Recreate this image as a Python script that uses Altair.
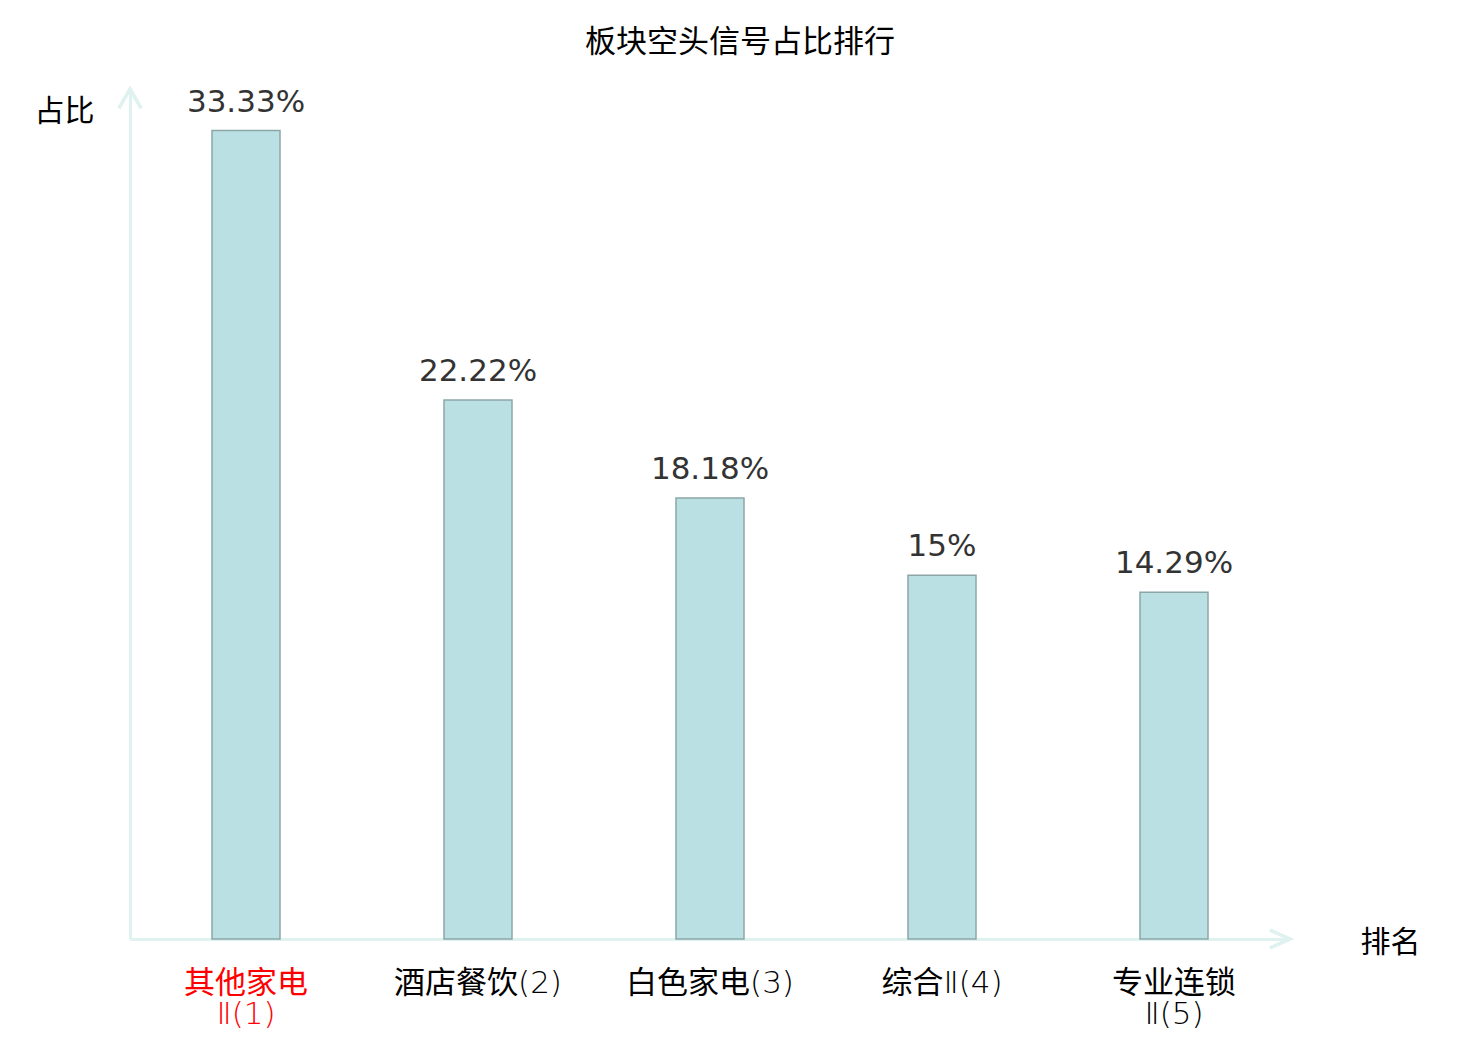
import altair as alt
import pandas as pd

categories = ["其他家电Ⅱ(1)", "酒店餐饮(2)", "白色家电(3)", "综合Ⅱ(4)", "专业连锁Ⅱ(5)"]
values = [33.33, 22.22, 18.18, 15, 14.29]
highlight = "其他家电Ⅱ(1)"

df = pd.DataFrame({"板块": categories, "占比": values})

AXIS_COLOR = "#dff2ef"
CJK = "Noto Sans CJK SC"
LABEL_FONT = "DejaVu Sans Light, Noto Sans CJK SC"

x_enc = alt.X(
    "板块:N",
    sort=categories,
    scale=alt.Scale(paddingInner=0, paddingOuter=0),
    axis=alt.Axis(
        title="排名",
        titleFont=CJK,
        titleFontSize=30,
        titleFontWeight="normal",
        titleColor="black",
        titleX=1260,
        titleY=3,
        titleAlign="center",
        titleBaseline="middle",
        titleAngle=0,
        labelAngle=0,
        labelFont=LABEL_FONT,
        labelFontSize=31,
        labelLineHeight=31,
        labelPadding=29,
        labelLimit=400,
        labelColor=alt.condition(f"datum.value == '{highlight}'", alt.value("red"), alt.value("black")),
        labelExpr="length(datum.label) > 7 ? [substring(datum.label, 0, 4), substring(datum.label, 4)] : datum.label",
        ticks=False,
        domainColor=AXIS_COLOR,
        domainWidth=3,
        grid=False,
    ),
)

y_enc = alt.Y(
    "占比:Q",
    scale=alt.Scale(domain=[0, 35], nice=False),
    axis=alt.Axis(
        title="占比",
        titleFont=CJK,
        titleFontSize=30,
        titleFontWeight="normal",
        titleColor="black",
        titleAngle=0,
        titleX=-66,
        titleY=21,
        titleAlign="center",
        titleBaseline="middle",
        labels=False,
        ticks=False,
        grid=False,
        domainColor=AXIS_COLOR,
        domainWidth=3,
    ),
)

base = alt.Chart(df)

bars = base.mark_bar(size=68, fill="#bbe0e3", stroke="#8ca6a8", strokeWidth=1.5).encode(x=x_enc, y=y_enc)

texts = base.transform_calculate(label="datum['占比'] + '%'").mark_text(
    font="DejaVu Sans", fontSize=31, color="#333333", baseline="alphabetic", dy=-19
).encode(x=alt.X("板块:N", sort=categories), y=alt.Y("占比:Q"), text="label:N")

x_arrow = base.mark_point(
    shape="M -2 -0.9 L 0 0 L -2 0.9", filled=False, stroke=AXIS_COLOR, strokeWidth=3, size=400, opacity=1
).encode(x=alt.value(1160), y=alt.value(849))

y_arrow = base.mark_point(
    shape="M -1.1 1.9 L 0 0 L 1.1 1.9", filled=False, stroke=AXIS_COLOR, strokeWidth=3, size=400, opacity=1
).encode(x=alt.value(0), y=alt.value(-1))

chart = alt.layer(bars, texts, x_arrow, y_arrow).properties(
    width=1160,
    height=849,
    autosize=alt.AutoSizeParams(type="none"),
    padding={"left": 122, "top": 82, "right": 170, "bottom": 93},
    title=alt.Title(
        "板块空头信号占比排行",
        font=CJK,
        fontSize=31,
        fontWeight="normal",
        color="black",
        anchor="middle",
        dx=30,
        offset=0,
        baseline="alphabetic",
    ),
).configure_view(stroke=None)

chart.save("out.html", embed_options={"renderer": "svg", "actions": False})
